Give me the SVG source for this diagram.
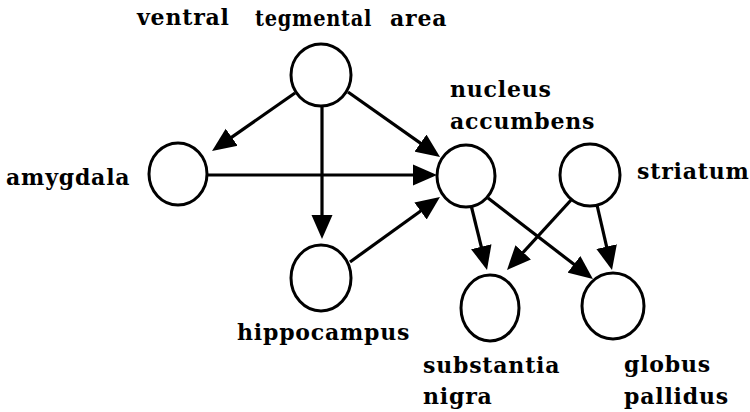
<svg xmlns="http://www.w3.org/2000/svg" width="750" height="412" viewBox="0 0 750 412">
<defs>
<style>
.node ellipse{fill:#fff;stroke:#000;stroke-width:3}
.lbl{font-family:"DejaVu Serif","Liberation Serif",serif;font-weight:bold;font-size:22px;letter-spacing:0.8px;fill:#000}
.edges line{stroke:#000;stroke-width:3.2}
</style>
<marker id="ah" markerUnits="userSpaceOnUse" markerWidth="26" markerHeight="22" viewBox="0 0 26 22" refX="16" refY="11" orient="auto">
<path d="M0,0.5 L24,11 L0,21.5 z" fill="#000"/>
</marker>
</defs>
<rect width="750" height="412" fill="#fff"/>
<g id="edges" class="edges">
<line x1="295" y1="93" x2="218.6" y2="146.4" marker-end="url(#ah)"/>
<line x1="322" y1="105" x2="322" y2="231" marker-end="url(#ah)"/>
<line x1="348" y1="92" x2="433.5" y2="152.4" marker-end="url(#ah)"/>
<line x1="207" y1="175" x2="429" y2="175" marker-end="url(#ah)"/>
<line x1="350" y1="262" x2="433.5" y2="201.7" marker-end="url(#ah)"/>
<line x1="471" y1="205" x2="485.1" y2="262.2" marker-end="url(#ah)"/>
<line x1="488" y1="198" x2="586.6" y2="274.1" marker-end="url(#ah)"/>
<line x1="572" y1="199" x2="512.4" y2="264.1" marker-end="url(#ah)"/>
<line x1="597" y1="205" x2="610.2" y2="262.2" marker-end="url(#ah)"/>
</g>
<g id="vta" class="node">
<ellipse cx="321" cy="75" rx="30" ry="31"/>
<text class="lbl" x="137" y="25">ventral</text>
<text class="lbl" x="255" y="26" textLength="117" lengthAdjust="spacingAndGlyphs">tegmental</text>
<text class="lbl" x="390" y="26">area</text>
</g>
<g id="amygdala" class="node">
<ellipse cx="178" cy="174" rx="29" ry="31"/>
<text class="lbl" x="6" y="185">amygdala</text>
</g>
<g id="hippocampus" class="node">
<ellipse cx="321" cy="278" rx="30" ry="33"/>
<text class="lbl" x="237" y="340">hippocampus</text>
</g>
<g id="nucleus-accumbens" class="node">
<ellipse cx="466" cy="176" rx="29" ry="31"/>
<text class="lbl" x="450" y="97">nucleus</text>
<text class="lbl" x="450" y="129">accumbens</text>
</g>
<g id="striatum" class="node">
<ellipse cx="590" cy="175" rx="30" ry="31"/>
<text class="lbl" x="637" y="179">striatum</text>
</g>
<g id="substantia-nigra" class="node">
<ellipse cx="490" cy="308" rx="29" ry="33"/>
<text class="lbl" x="423" y="373">substantia</text>
<text class="lbl" x="423" y="404">nigra</text>
</g>
<g id="globus-pallidus" class="node">
<ellipse cx="613" cy="306" rx="31" ry="33"/>
<text class="lbl" x="624" y="372">globus</text>
<text class="lbl" x="624" y="404">pallidus</text>
</g>
</svg>
